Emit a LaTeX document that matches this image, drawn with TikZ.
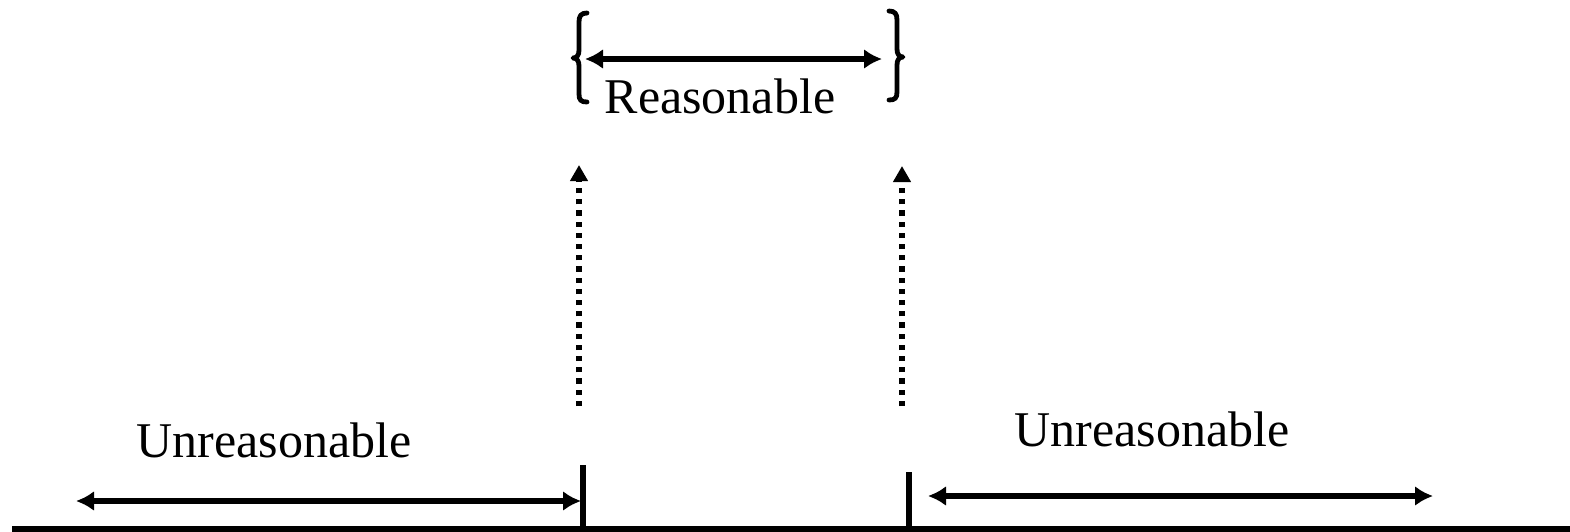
\documentclass[tikz,border=0pt]{standalone}
\usepackage{fontspec}
\setmainfont{Liberation Serif}
\usetikzlibrary{arrows.meta}
\begin{document}
\begin{tikzpicture}[x=0.5pt,y=-0.5pt,
  heavy/.style={line width=2.8pt},
  span/.style={heavy,{Latex[length=9pt,width=10pt]}-{Latex[length=9pt,width=10pt]}},
  dotarrow/.style={line width=2.8pt,line cap=butt,dash pattern=on 2.6pt off 3pt,-{Triangle[length=8pt,width=8.5pt]}},
  bracestyle/.style={line width=2.4pt,line cap=round,line join=round},
  lbl/.style={font=\fontsize{25}{28}\selectfont,inner sep=0pt,anchor=base}]
\useasboundingbox (0,0) rectangle (1570,531);
% base line and ticks
\coordinate (b0) at (12,529);
\coordinate (b1) at (1570,529);
\coordinate (t1top) at (583,465);
\coordinate (t1bot) at (583,531);
\coordinate (t2top) at (909,472);
\coordinate (t2bot) at (909,531);
\draw[heavy] (b0) -- (b1);
\draw[heavy] (t1bot) -- (t1top);
\draw[heavy] (t2bot) -- (t2top);
% unreasonable arrows
\coordinate (la) at (76,501);
\coordinate (lb) at (581,501);
\coordinate (ra) at (928,496);
\coordinate (rb) at (1433,496);
\draw[span] (la) -- (lb);
\draw[span] (ra) -- (rb);
\node[lbl] (unl) at (274,457) {Unreasonable};
\node[lbl] (unr) at (1152,446) {Unreasonable};
% dotted arrows
\coordinate (d1a) at (579,406);
\coordinate (d1b) at (579,165);
\coordinate (d2a) at (902,406);
\coordinate (d2b) at (902,166);
\draw[dotarrow] (d1a) -- (d1b);
\draw[dotarrow] (d2a) -- (d2b);
% reasonable
\coordinate (ra1) at (585,59);
\coordinate (ra2) at (882,59);
\draw[span] (ra1) -- (ra2);
\node[lbl] (reas) at (720,113) {Reasonable};
% braces
\draw[bracestyle] (587,13) .. controls (581,13) and (579,16) .. (579,22) -- (579,50)
  .. controls (579,55) and (577,58) .. (573,58)
  .. controls (577,58) and (579,61) .. (579,66) -- (579,94)
  .. controls (579,100) and (581,102) .. (587,102);
\draw[bracestyle] (889,11) .. controls (895,11) and (897,14) .. (897,20) -- (897,49)
  .. controls (897,54) and (899,57) .. (903,57)
  .. controls (899,57) and (897,60) .. (897,65) -- (897,92)
  .. controls (897,98) and (895,100) .. (889,100);
\end{tikzpicture}
\end{document}
